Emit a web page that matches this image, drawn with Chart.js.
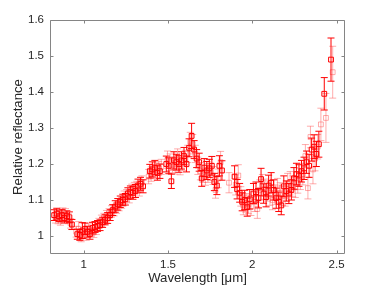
<!DOCTYPE html>
<html>
<head>
<meta charset="utf-8">
<script src="https://cdn.jsdelivr.net/npm/chart.js@4/dist/chart.umd.min.js"></script>
<style>
  html, body { margin: 0; padding: 0; background: #ffffff; }
  #wrap { width: 382px; height: 286px; }
</style>
</head>
<body>
<div id="wrap"><canvas id="c" width="382" height="286"></canvas></div>
<script>
// ---- Data ----
const xTickValues = [1, 1.5, 2, 2.5];
const yTickValues = [1, 1.1, 1.2, 1.3, 1.4, 1.5, 1.6];

// Series A (solid red)
const wavelengthA = [0.825,0.840,0.855,0.870,0.885,0.900,0.915,0.930,0.962,0.977,
  0.992,1.007,1.022,1.037,1.052,1.067,1.082,1.097,1.112,1.127,
  1.142,1.157,1.172,1.187,1.202,1.217,1.232,1.247,1.262,1.277,
  1.292,1.307,1.322,1.337,1.352,1.392,1.407,1.422,1.437,1.452,
  1.490,1.505,1.520,1.535,1.550,1.565,1.580,1.595,1.610,1.625,
  1.640,1.655,1.670,1.685,1.700,1.715,1.730,1.745,1.760,1.775,
  1.790,1.805,1.820,1.895,1.910,1.925,1.940,1.955,1.970,1.985,
  2.007,2.022,2.037,2.052,2.067,2.082,2.097,2.112,2.127,2.142,
  2.157,2.172,2.187,2.202,2.217,2.232,2.247,2.262,2.277,2.292,
  2.307,2.322,2.337,2.352,2.367,2.380,2.395,2.427,2.467];
const reflectanceA = [1.058,1.062,1.055,1.058,1.050,1.055,1.052,1.032,1.005,1.003,
  1.015,1.020,1.012,1.005,1.022,1.025,1.028,1.030,1.038,1.045,
  1.050,1.058,1.072,1.082,1.088,1.095,1.100,1.102,1.118,1.122,
  1.120,1.125,1.140,1.145,1.138,1.180,1.185,1.190,1.175,1.180,
  1.200,1.195,1.152,1.210,1.205,1.200,1.210,1.222,1.200,1.245,
  1.278,1.240,1.215,1.205,1.160,1.190,1.182,1.188,1.195,1.150,
  1.140,1.195,1.182,1.165,1.130,1.120,1.095,1.100,1.080,1.102,
  1.118,1.122,1.105,1.158,1.118,1.108,1.140,1.148,1.128,1.105,
  1.095,1.085,1.138,1.125,1.118,1.128,1.160,1.172,1.168,1.180,
  1.188,1.205,1.195,1.240,1.248,1.228,1.255,1.395,1.490];
const uncertaintyA = [0.015,0.015,0.015,0.016,0.014,0.015,0.015,0.014,0.014,0.015,
  0.022,0.016,0.015,0.014,0.016,0.015,0.015,0.015,0.014,0.014,
  0.015,0.015,0.015,0.016,0.016,0.016,0.016,0.016,0.016,0.017,
  0.018,0.018,0.018,0.018,0.018,0.019,0.021,0.020,0.020,0.020,
  0.022,0.022,0.020,0.024,0.022,0.023,0.024,0.024,0.022,0.025,
  0.035,0.025,0.025,0.025,0.022,0.025,0.025,0.025,0.026,0.024,
  0.025,0.028,0.027,0.030,0.027,0.026,0.025,0.027,0.025,0.027,
  0.028,0.028,0.027,0.030,0.027,0.027,0.029,0.028,0.028,0.028,
  0.027,0.026,0.029,0.028,0.028,0.028,0.030,0.030,0.030,0.030,
  0.031,0.031,0.032,0.032,0.033,0.035,0.036,0.045,0.060];

// Series B (light red)
const wavelengthB = [0.833,0.848,0.862,0.877,0.892,0.907,0.922,0.955,0.970,0.985,
  1.000,1.015,1.030,1.045,1.060,1.075,1.090,1.105,1.120,1.135,
  1.150,1.165,1.180,1.195,1.210,1.225,1.240,1.255,1.270,1.285,
  1.300,1.315,1.330,1.345,1.385,1.400,1.415,1.430,1.445,1.460,
  1.497,1.512,1.527,1.542,1.557,1.572,1.587,1.602,1.617,1.632,
  1.647,1.662,1.677,1.692,1.707,1.722,1.737,1.752,1.767,1.782,
  1.797,1.812,1.862,1.902,1.917,1.932,1.947,1.962,1.977,1.992,
  2.015,2.030,2.045,2.060,2.075,2.090,2.105,2.120,2.135,2.150,
  2.165,2.180,2.195,2.210,2.225,2.240,2.255,2.270,2.285,2.300,
  2.315,2.330,2.345,2.360,2.372,2.388,2.407,2.437,2.477];
const reflectanceB = [1.050,1.047,1.044,1.063,1.060,1.048,1.035,1.012,1.020,0.998,
  1.008,1.002,1.018,1.015,1.010,1.018,1.035,1.042,1.048,1.055,
  1.062,1.068,1.070,1.078,1.085,1.092,1.108,1.112,1.110,1.128,
  1.132,1.135,1.128,1.150,1.165,1.172,1.178,1.182,1.188,1.192,
  1.212,1.205,1.198,1.195,1.218,1.192,1.205,1.215,1.228,1.262,
  1.255,1.228,1.195,1.180,1.172,1.165,1.175,1.178,1.168,1.128,
  1.160,1.205,1.148,1.142,1.168,1.110,1.085,1.092,1.088,1.082,
  1.095,1.075,1.128,1.142,1.130,1.125,1.112,1.100,1.115,1.132,
  1.120,1.112,1.110,1.145,1.150,1.138,1.135,1.148,1.158,1.172,
  1.222,1.133,1.275,1.185,1.215,1.248,1.310,1.328,1.455];
const uncertaintyB = [0.014,0.013,0.014,0.015,0.016,0.014,0.013,0.015,0.020,0.014,
  0.015,0.014,0.016,0.015,0.014,0.014,0.014,0.016,0.015,0.016,
  0.014,0.016,0.014,0.015,0.015,0.015,0.017,0.017,0.018,0.016,
  0.017,0.017,0.017,0.017,0.020,0.020,0.019,0.021,0.019,0.021,
  0.024,0.023,0.022,0.023,0.024,0.022,0.023,0.023,0.024,0.026,
  0.027,0.024,0.024,0.024,0.023,0.024,0.026,0.024,0.025,0.023,
  0.026,0.030,0.028,0.028,0.030,0.027,0.026,0.026,0.026,0.025,
  0.027,0.026,0.028,0.029,0.028,0.028,0.027,0.027,0.027,0.028,
  0.028,0.028,0.027,0.029,0.029,0.029,0.028,0.029,0.029,0.030,
  0.032,0.030,0.030,0.040,0.034,0.034,0.045,0.068,0.072];

// ---- Build chart data ----
function pts(xs, ys, es) {
  return xs.map((x, i) => ({ x: x, y: ys[i], err: es[i] }));
}

const SOLID = 'rgb(255,0,0)';
const LIGHT = 'rgba(255,70,70,0.45)';

const errorBarPlugin = {
  id: 'errorBars',
  beforeDatasetDraw(chart, args) {
    const ds = chart.data.datasets[args.index];
    const xs = chart.scales.x, ys = chart.scales.y;
    const ctx = chart.ctx;
    const area = chart.chartArea;
    ctx.save();
    ctx.beginPath();
    ctx.rect(area.left, area.top, area.right - area.left, area.bottom - area.top);
    ctx.clip();
    ctx.strokeStyle = ds.borderColor;
    ctx.lineWidth = 1;
    const cap = 3.5;
    ds.data.forEach(p => {
      const px = xs.getPixelForValue(p.x);
      const pTop = ys.getPixelForValue(p.y + p.err);
      const pBot = ys.getPixelForValue(p.y - p.err);
      ctx.beginPath();
      ctx.moveTo(px, pTop); ctx.lineTo(px, pBot);
      ctx.moveTo(px - cap, pTop); ctx.lineTo(px + cap, pTop);
      ctx.moveTo(px - cap, pBot); ctx.lineTo(px + cap, pBot);
      ctx.stroke();
    });
    ctx.restore();
  }
};

const framePlugin = {
  id: 'frame',
  afterDraw(chart) {
    const ctx = chart.ctx;
    const a = chart.chartArea;
    const xs = chart.scales.x, ys = chart.scales.y;
    const L = Math.round(a.left) + 0.5, R = Math.round(a.right) - 0.5;
    const T = Math.round(a.top) + 0.5, B = Math.round(a.bottom) - 0.5;
    const tl = 3;
    ctx.save();
    ctx.strokeStyle = '#858585';
    ctx.lineWidth = 1;
    ctx.beginPath();
    ctx.rect(L, T, R - L, B - T);
    xTickValues.forEach(v => {
      const px = Math.round(xs.getPixelForValue(v)) + 0.5;
      ctx.moveTo(px, B); ctx.lineTo(px, B - tl);
      ctx.moveTo(px, T); ctx.lineTo(px, T + tl);
    });
    yTickValues.forEach(v => {
      const py = Math.round(ys.getPixelForValue(v)) + 0.5;
      ctx.moveTo(L, py); ctx.lineTo(L + tl, py);
      ctx.moveTo(R, py); ctx.lineTo(R - tl, py);
    });
    ctx.stroke();
    ctx.restore();
  }
};

const FONT = "'Liberation Sans', Arial, Helvetica, sans-serif";

new Chart(document.getElementById('c'), {
  type: 'scatter',
  data: {
    datasets: [
      {
        label: 'A',
        data: pts(wavelengthA, reflectanceA, uncertaintyA),
        borderColor: SOLID,
        backgroundColor: 'rgba(0,0,0,0)',
        pointStyle: 'rect',
        pointRadius: 3.4,
        borderWidth: 1,
        pointBorderWidth: 1
      },
      {
        label: 'B',
        data: pts(wavelengthB, reflectanceB, uncertaintyB),
        borderColor: LIGHT,
        backgroundColor: 'rgba(0,0,0,0)',
        pointStyle: 'rect',
        pointRadius: 3.4,
        borderWidth: 1,
        pointBorderWidth: 1
      }
    ]
  },
  options: {
    responsive: false,
    animation: false,
    devicePixelRatio: 1,
    layout: { padding: { left: 10, right: 37, top: 20, bottom: 0 } },
    plugins: {
      legend: { display: false },
      tooltip: { enabled: false }
    },
    scales: {
      x: {
        type: 'linear',
        min: 0.8,
        max: 2.55,
        grid: { display: false, drawTicks: false },
        border: { display: false },
        afterBuildTicks: s => { s.ticks = xTickValues.map(v => ({ value: v })); },
        afterFit: s => { s.height = 32; },
        ticks: {
          padding: 4,
          color: '#262626',
          font: { family: FONT, size: 11.5 },
          callback: v => String(v)
        },
        title: {
          display: true,
          text: 'Wavelength [μm]',
          color: '#262626',
          font: { family: FONT, size: 13.2 },
          padding: { top: 0, bottom: 0 }
        }
      },
      y: {
        type: 'linear',
        min: 0.95,
        max: 1.6,
        grid: { display: false, drawTicks: false },
        border: { display: false },
        afterBuildTicks: s => { s.ticks = yTickValues.map(v => ({ value: v })); },
        afterFit: s => { s.width = 40; },
        ticks: {
          padding: 6,
          color: '#262626',
          font: { family: FONT, size: 11.5 },
          callback: v => String(v)
        },
        title: {
          display: true,
          text: 'Relative reflectance',
          color: '#262626',
          font: { family: FONT, size: 13.2 },
          padding: { top: 0, bottom: 2 }
        }
      }
    }
  },
  plugins: [errorBarPlugin, framePlugin]
});
</script>
</body>
</html>
